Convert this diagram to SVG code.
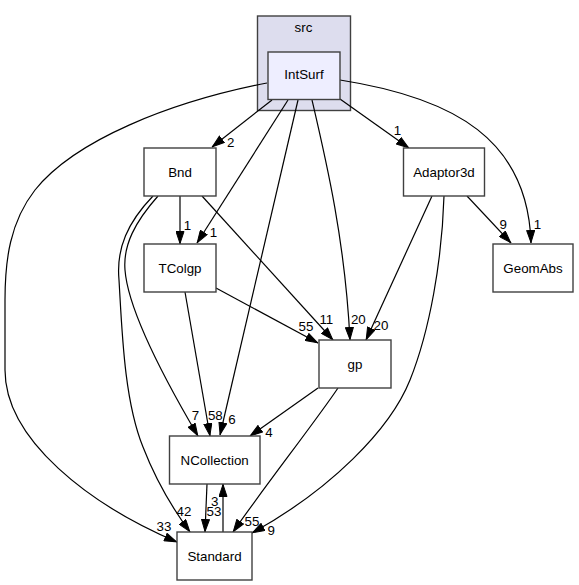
<svg xmlns="http://www.w3.org/2000/svg" width="579" height="585" viewBox="0 0 579 585">
<style>
.box{fill:#ffffff;stroke:#404040;stroke-width:1.4}
.t{font-family:"Liberation Sans",Arial,Helvetica,sans-serif;font-size:13.33px;fill:#000000;text-anchor:middle}
.e{fill:none;stroke:#000000;stroke-width:1.2;marker-end:url(#arr)}
.l{font-family:"Liberation Sans",Arial,Helvetica,sans-serif;font-size:13.33px;fill:#000000;text-anchor:middle}
</style>
<defs>
<marker id="arr" viewBox="0 0 13 9" refX="13" refY="4.5" markerWidth="13" markerHeight="9" markerUnits="userSpaceOnUse" orient="auto">
<path d="M0.5,0.5 L12.5,4.5 L0.5,8.5 z" fill="#000000" stroke="#000000" stroke-width="1"/>
</marker>
</defs>
<rect width="579" height="585" fill="#ffffff"/>
<g id="cluster_src">
<rect x="257.5" y="16" width="93" height="94.5" fill="#ddddee" stroke="#404040" stroke-width="1.4"/>
<text class="t" x="303.5" y="32">src</text>
</g>
<g id="connectors">
<path class="e" d="M272,100 L212,147"/>
<path class="e" d="M288,100 L197,243"/>
<path class="e" d="M298,100 L220,435"/>
<path class="e" d="M312,100 C326,160 345,240 350,340"/>
<path class="e" d="M340,99 L409,148"/>
<path class="e" d="M340,80 C455,98 528,140 531,243"/>
<path class="e" d="M267,83 C170,102 75,140 35,190 C10,222 5,260 5,300 L5,370 C5,440 90,505 177,542"/>
<path class="e" d="M180,196 L180,244"/>
<path class="e" d="M202,196 L333,340"/>
<path class="e" d="M158,196 C135,222 123,245 125,270 C128,310 165,380 198,436"/>
<path class="e" d="M153,196 C128,222 116,248 119,280 C122,330 124,400 143,447 C155,478 170,505 190,532"/>
<path class="e" d="M216,288 L318,343"/>
<path class="e" d="M185,292 L210,436"/>
<path class="e" d="M467,196 L511,243"/>
<path class="e" d="M432,196 L366,340"/>
<path class="e" d="M444,196 C442,260 430,330 410,380 C390,430 330,490 252,533"/>
<path class="e" d="M318,388 L250,436"/>
<path class="e" d="M338,388 C318,418 262,490 233,532"/>
<path class="e" d="M207,484 L205,532"/>
<path class="e" d="M223,532 L223,484"/>
<text class="l" x="230.8" y="147.3">2</text>
<text class="l" x="213.5" y="236.5">1</text>
<text class="l" x="232" y="423.5">6</text>
<text class="l" x="358.3" y="323.5">20</text>
<text class="l" x="397.5" y="135">1</text>
<text class="l" x="537.5" y="228.5">1</text>
<text class="l" x="164" y="530.5">33</text>
<text class="l" x="187.5" y="230">1</text>
<text class="l" x="326.3" y="324">11</text>
<text class="l" x="195.5" y="419.5">7</text>
<text class="l" x="184" y="515.5">42</text>
<text class="l" x="306" y="331">55</text>
<text class="l" x="215.3" y="420">58</text>
<text class="l" x="503.3" y="228.5">9</text>
<text class="l" x="381" y="330">20</text>
<text class="l" x="271.3" y="535">9</text>
<text class="l" x="269" y="436.5">4</text>
<text class="l" x="252" y="525.5">55</text>
<text class="l" x="214" y="516">53</text>
<text class="l" x="214.7" y="505.5">3</text>
</g>
<g id="node_IntSurf">
<rect x="268" y="52" width="72" height="47.5" fill="#eeeeff" stroke="#404040" stroke-width="1.4"/>
<text class="t" x="304" y="79">IntSurf</text>
</g>
<g id="node_Bnd">
<rect class="box" x="144" y="148" width="72" height="48"/>
<text class="t" x="180" y="176.5">Bnd</text>
</g>
<g id="node_Adaptor3d">
<rect class="box" x="403.5" y="148" width="81" height="48"/>
<text class="t" x="444" y="176.5">Adaptor3d</text>
</g>
<g id="node_TColgp">
<rect class="box" x="144" y="244" width="72" height="48"/>
<text class="t" x="180" y="272.5">TColgp</text>
</g>
<g id="node_GeomAbs">
<rect class="box" x="493" y="244" width="80" height="48"/>
<text class="t" x="533" y="272.5">GeomAbs</text>
</g>
<g id="node_gp">
<rect class="box" x="319" y="340" width="72" height="48"/>
<text class="t" x="355" y="368.5">gp</text>
</g>
<g id="node_NCollection">
<rect class="box" x="169.5" y="436" width="90.5" height="48"/>
<text class="t" x="214.7" y="464.5">NCollection</text>
</g>
<g id="node_Standard">
<rect class="box" x="177" y="532" width="75" height="48"/>
<text class="t" x="214.5" y="560.5">Standard</text>
</g>
</svg>
